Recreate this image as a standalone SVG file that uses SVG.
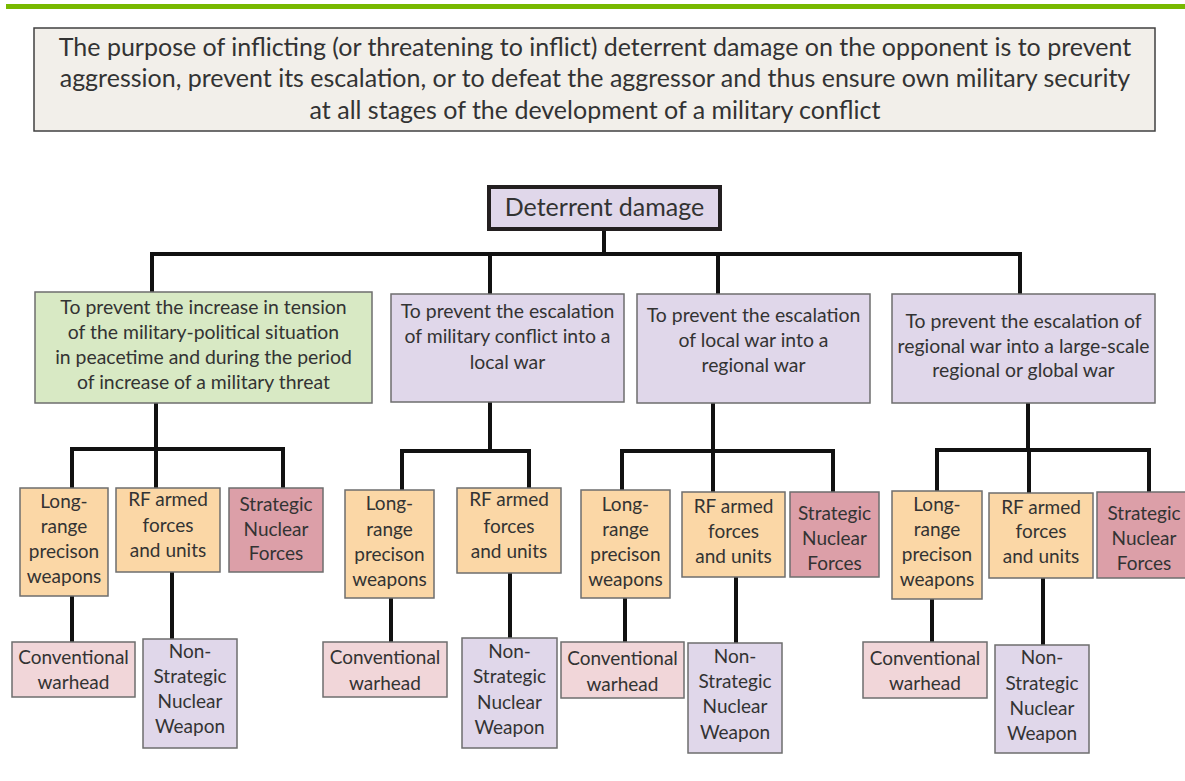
<svg xmlns="http://www.w3.org/2000/svg" width="1185" height="781" viewBox="0 0 1185 781">
<style>
text{font-family:Lato,"Open Sans","Liberation Sans",sans-serif;fill:#333333;text-anchor:middle}
.t{font-size:25px}
.h{font-size:25px}
.m{font-size:19.4px}
.s{font-size:19px}
.b{stroke:#6e6e6e;stroke-width:1.5}
.lav{fill:#e0d7ea}
.grn{fill:#d8e9c4}
.org{fill:#fbd7a6}
.snf{fill:#dc9fa8}
.cnv{fill:#f1d6d9}
.c{fill:none;stroke:#111111;stroke-width:4;stroke-linejoin:miter}
</style>
<rect x="6" y="4" width="1179" height="5" fill="#78b900"/>
<g id="purpose">
<rect x="34" y="28" width="1121" height="103" fill="#f2efea" stroke="#404040" stroke-width="1.5"/>
<text class="t" x="595" y="56">The purpose of inflicting (or threatening to inflict) deterrent damage on the opponent is to prevent</text>
<text class="t" x="595" y="87">aggression, prevent its escalation, or to defeat the aggressor and thus ensure own military security</text>
<text class="t" x="595" y="119">at all stages of the development of a military conflict</text>
</g>
<g id="connectors">
<path class="c" d="M604 230V254M152 292V254H1020V294M490 254V294M718 254V294"/>
<path class="c" d="M156 403V449M72 488V449H283V488M156 449V488M72 596V642M172 572V639"/>
<path class="c" d="M490 402V451M402 490V451H529V488M391 598V642M510 573V638"/>
<path class="c" d="M713 403V451M622 490V451H833V492M713 451V492M625 598V642M736 577V643"/>
<path class="c" d="M1028 403V450M937 491V450H1149V492M1029 450V493M932 599V642M1043 578V645"/>
</g>
<g id="deterrent">
<rect x="489" y="187" width="231" height="42" class="lav" stroke="#231f20" stroke-width="4"/>
<text class="h" x="604.5" y="216">Deterrent damage</text>
</g>
<g id="goal1">
<rect x="35" y="292" width="337" height="111" class="grn b"/>
<text class="m" x="203.5" y="314">To prevent the increase in tension</text>
<text class="m" x="203.5" y="339">of the military-political situation</text>
<text class="m" x="203.5" y="364">in peacetime and during the period</text>
<text class="m" x="203.5" y="389">of increase of a military threat</text>
</g>
<g id="goal2">
<rect x="391" y="294" width="233" height="108" class="lav b"/>
<text class="m" x="507.5" y="318">To prevent the escalation</text>
<text class="m" x="507.5" y="343">of military conflict into a</text>
<text class="m" x="507.5" y="369">local war</text>
</g>
<g id="goal3">
<rect x="637" y="294" width="233" height="109" class="lav b"/>
<text class="m" x="753.5" y="322">To prevent the escalation</text>
<text class="m" x="753.5" y="347">of local war into a</text>
<text class="m" x="753.5" y="372">regional war</text>
</g>
<g id="goal4">
<rect x="892" y="294" width="263" height="109" class="lav b"/>
<text class="m" x="1023.5" y="328">To prevent the escalation of</text>
<text class="m" x="1023.5" y="353">regional war into a large-scale</text>
<text class="m" x="1023.5" y="377">regional or global war</text>
</g>
<g id="g1-lr">
<rect x="20" y="488" width="88" height="108" class="org b"/>
<text class="s" x="64" y="508">Long-</text><text class="s" x="64" y="533">range</text><text class="s" x="64" y="558">precison</text><text class="s" x="64" y="583">weapons</text>
</g>
<g id="g1-rf">
<rect x="116" y="488" width="104" height="84" class="org b"/>
<text class="s" x="168" y="506">RF armed</text><text class="s" x="168" y="532">forces</text><text class="s" x="168" y="557">and units</text>
</g>
<g id="g1-snf">
<rect x="229" y="488" width="94" height="84" class="snf b"/>
<text class="s" x="276" y="511">Strategic</text><text class="s" x="276" y="536">Nuclear</text><text class="s" x="276" y="560">Forces</text>
</g>
<g id="g1-conv">
<rect x="12" y="642" width="123" height="55" class="cnv b"/>
<text class="s" x="73.5" y="664">Conventional</text><text class="s" x="73.5" y="689">warhead</text>
</g>
<g id="g1-ns">
<rect x="143" y="639" width="94" height="109" class="lav b"/>
<text class="s" x="190" y="658">Non-</text><text class="s" x="190" y="683">Strategic</text><text class="s" x="190" y="708">Nuclear</text><text class="s" x="190" y="733">Weapon</text>
</g>
<g id="g2-lr">
<rect x="345" y="490" width="89" height="108" class="org b"/>
<text class="s" x="389.5" y="510">Long-</text><text class="s" x="389.5" y="536">range</text><text class="s" x="389.5" y="561">precison</text><text class="s" x="389.5" y="586">weapons</text>
</g>
<g id="g2-rf">
<rect x="457" y="488" width="104" height="85" class="org b"/>
<text class="s" x="509" y="506">RF armed</text><text class="s" x="509" y="533">forces</text><text class="s" x="509" y="558">and units</text>
</g>
<g id="g2-conv">
<rect x="323" y="642" width="124" height="55" class="cnv b"/>
<text class="s" x="385" y="664">Conventional</text><text class="s" x="385" y="690">warhead</text>
</g>
<g id="g2-ns">
<rect x="462" y="638" width="95" height="110" class="lav b"/>
<text class="s" x="509.5" y="658">Non-</text><text class="s" x="509.5" y="683">Strategic</text><text class="s" x="509.5" y="709">Nuclear</text><text class="s" x="509.5" y="734">Weapon</text>
</g>
<g id="g3-lr">
<rect x="581" y="490" width="89" height="108" class="org b"/>
<text class="s" x="625.5" y="511">Long-</text><text class="s" x="625.5" y="536">range</text><text class="s" x="625.5" y="561">precison</text><text class="s" x="625.5" y="586">weapons</text>
</g>
<g id="g3-rf">
<rect x="682" y="492" width="103" height="85" class="org b"/>
<text class="s" x="733.5" y="513">RF armed</text><text class="s" x="733.5" y="538">forces</text><text class="s" x="733.5" y="563">and units</text>
</g>
<g id="g3-snf">
<rect x="790" y="492" width="89" height="85" class="snf b"/>
<text class="s" x="834.5" y="520">Strategic</text><text class="s" x="834.5" y="545">Nuclear</text><text class="s" x="834.5" y="570">Forces</text>
</g>
<g id="g3-conv">
<rect x="561" y="642" width="123" height="56" class="cnv b"/>
<text class="s" x="622.5" y="665">Conventional</text><text class="s" x="622.5" y="691">warhead</text>
</g>
<g id="g3-ns">
<rect x="688" y="643" width="94" height="110" class="lav b"/>
<text class="s" x="735" y="663">Non-</text><text class="s" x="735" y="688">Strategic</text><text class="s" x="735" y="713">Nuclear</text><text class="s" x="735" y="739">Weapon</text>
</g>
<g id="g4-lr">
<rect x="892" y="491" width="90" height="108" class="org b"/>
<text class="s" x="937" y="511">Long-</text><text class="s" x="937" y="536">range</text><text class="s" x="937" y="561">precison</text><text class="s" x="937" y="586">weapons</text>
</g>
<g id="g4-rf">
<rect x="989" y="493" width="104" height="85" class="org b"/>
<text class="s" x="1041" y="514">RF armed</text><text class="s" x="1041" y="538">forces</text><text class="s" x="1041" y="563">and units</text>
</g>
<g id="g4-snf">
<rect x="1097" y="492" width="95" height="86" class="snf b"/>
<text class="s" x="1144" y="520">Strategic</text><text class="s" x="1144" y="545">Nuclear</text><text class="s" x="1144" y="570">Forces</text>
</g>
<g id="g4-conv">
<rect x="863" y="642" width="124" height="56" class="cnv b"/>
<text class="s" x="925" y="665">Conventional</text><text class="s" x="925" y="690">warhead</text>
</g>
<g id="g4-ns">
<rect x="995" y="645" width="94" height="108" class="lav b"/>
<text class="s" x="1042" y="664">Non-</text><text class="s" x="1042" y="690">Strategic</text><text class="s" x="1042" y="715">Nuclear</text><text class="s" x="1042" y="740">Weapon</text>
</g>
</svg>
